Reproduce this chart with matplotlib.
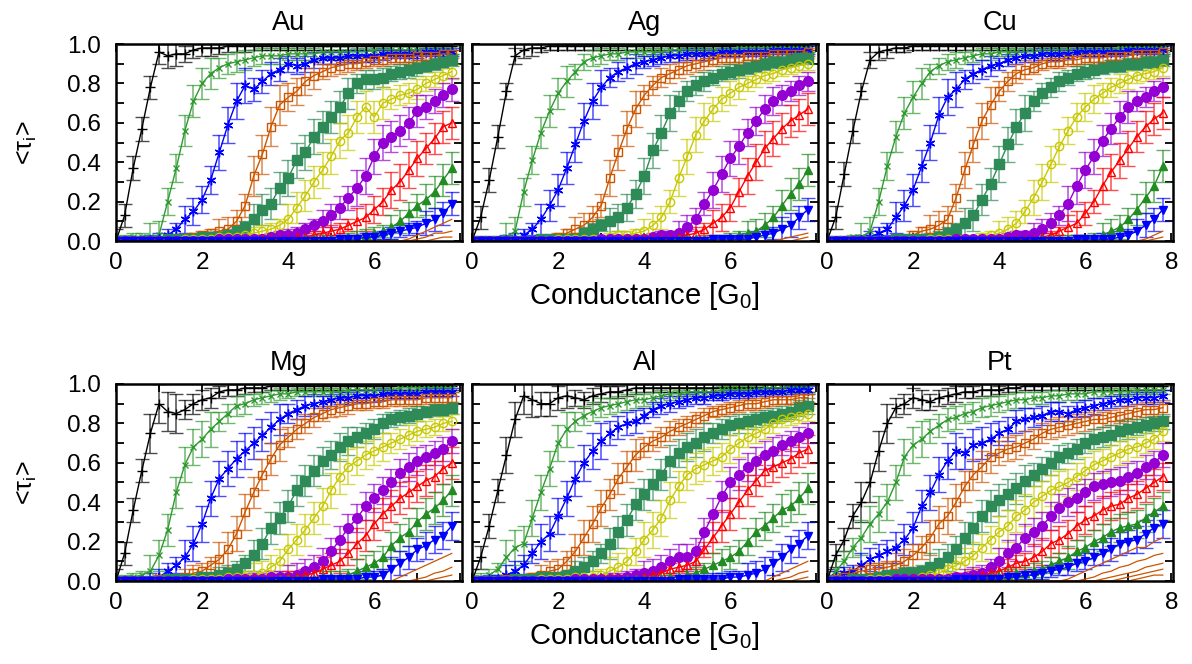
import numpy as np
import matplotlib
matplotlib.use("Agg")
import matplotlib.pyplot as plt
from matplotlib.ticker import MultipleLocator, FormatStrFormatter
from matplotlib.colors import to_rgba

plt.rcParams['font.family'] = ['Liberation Sans', 'DejaVu Sans']
plt.rcParams['mathtext.fontset'] = 'custom'
plt.rcParams['mathtext.rm'] = 'Liberation Sans'
plt.rcParams['mathtext.it'] = 'Liberation Sans:italic'
plt.rcParams['mathtext.default'] = 'regular'

# conductance grid [G0], one point every 0.2
G = [round(0.2 * i, 1) for i in range(40)]

# channel transmissions in percent, 10 channels per metal (40 points each)
au_ch = [
    [0, 13, 37, 57, 78, 96, 94, 95, 95, 97, 98, 98, 98] + [99] * 27,
    [0, 1, 2, 2, 2, 3, 20, 37, 56, 71, 80, 85, 88, 90, 91, 92, 93, 94, 94, 94] + [95] * 4 + [96] * 6 + [97] * 10,
    [0, 0, 0, 0, 0, 1, 3, 6, 11, 15, 21, 31, 45, 59, 71, 79, 77, 81, 85, 87, 90, 89, 90, 92, 93, 93, 93, 94, 94, 94, 94, 95, 95, 95, 95, 95, 96, 96, 96, 96],
    [0] * 9 + [2, 3, 4, 5, 6, 10, 18, 33, 44, 58, 69, 73, 76, 81, 84, 86, 88, 89, 90, 90, 91, 92, 92, 93, 93, 93, 94, 94, 94, 95, 95],
    [0, 0, 0, 0, 0, 0, 1, 1, 1, 1, 2, 2, 2, 3, 5, 7, 11, 16, 19, 27, 32, 41, 45, 53, 58, 63, 68, 75, 80, 82, 82, 83, 85, 86, 87, 88, 89, 90, 91, 92],
    [0, 0, 0, 0, 0, 0, 0, 0, 1, 1, 1, 1, 2, 2, 2, 3, 4, 5, 6, 8, 11, 17, 23, 30, 36, 43, 51, 55, 63, 68, 63, 70, 72, 74, 75, 77, 80, 82, 84, 86],
    [0] * 12 + [1] * 6 + [2, 3, 3, 4, 6, 8, 10, 13, 17, 22, 27, 33, 43, 50, 53, 56, 60, 66, 68, 71, 74, 77],
    [0] * 17 + [1, 1, 1, 1, 2, 2, 3, 4, 5, 6, 8, 10, 12, 16, 20, 26, 30, 36, 42, 47, 52, 58, 60],
    [0] * 22 + [1] * 5 + [2, 2, 3, 4, 5, 7, 10, 14, 18, 21, 25, 31, 37],
    [0] * 26 + [1] * 3 + [2, 2, 3, 4, 5, 6, 7, 9, 11, 14, 19],
]
ag_ch = [
    [0, 12, 31, 53, 76, 94, 97, 98, 98] + [99] * 31,
    [0, 0, 1, 1, 2, 5, 25, 41, 55, 66, 75, 81, 86, 91, 93, 94, 95, 95] + [96] * 5 + [97] * 8 + [98] * 9,
    [0, 0, 0, 0, 0, 1, 3, 6, 11, 18, 26, 37, 49, 61, 71, 78, 83, 86, 88, 90, 91, 92, 93, 94, 94, 95, 95, 95, 95, 96, 96, 96, 96, 96, 96, 97, 97, 97, 97, 97],
    [0] * 9 + [1, 2, 4, 6, 8, 12, 18, 32, 45, 57, 67, 74, 79, 83, 85, 87, 89, 90, 91, 92, 93, 93, 93, 94, 94, 94, 95, 95, 95, 95, 96],
    [0] * 8 + [1] * 5 + [4, 6, 8, 10, 12, 17, 24, 33, 46, 55, 65, 71, 76, 79, 81, 83, 85, 86, 87, 88, 89, 90, 91, 91, 92, 93, 93],
    [0] * 10 + [1] * 6 + [2, 3, 3, 4, 5, 8, 12, 20, 32, 43, 54, 61, 67, 72, 75, 78, 80, 82, 84, 85, 87, 88, 89, 90],
    [0] * 15 + [1] * 6 + [2, 3, 3, 4, 7, 11, 19, 26, 34, 42, 48, 55, 61, 67, 71, 74, 76, 79, 81],
    [0] * 18 + [1] * 6 + [2, 3, 4, 6, 9, 12, 17, 25, 33, 40, 47, 52, 57, 61, 64, 67],
    [0] * 24 + [1] * 6 + [2, 3, 4, 5, 8, 12, 18, 24, 29, 36],
    [0] * 28 + [1] * 5 + [2, 3, 4, 6, 8, 12, 16],
]
cu_ch = [
    [0, 12, 34, 56, 76, 92, 96, 97, 98, 98] + [99] * 30,
    [0, 1, 1, 2, 2, 5, 20, 38, 53, 65, 73, 80, 86, 89, 91, 92, 93, 94, 95, 95, 96, 96, 96, 96, 96] + [97] * 9 + [98] * 6,
    [0, 0, 0, 0, 0, 2, 4, 6, 12, 18, 26, 38, 50, 64, 73, 77, 82, 85, 87, 89, 90, 92, 93, 94, 94, 95, 95, 95, 95, 96, 96, 96, 96, 96, 96, 97, 97, 97, 97, 97],
    [0] * 9 + [1, 3, 5, 6, 8, 11, 22, 36, 49, 61, 69, 76, 81, 85, 87, 88, 90, 91, 91, 92, 92, 93, 93, 93, 94, 94, 94, 95, 95, 95, 96],
    [0] * 8 + [1] * 5 + [2, 4, 6, 9, 13, 21, 29, 39, 49, 58, 65, 71, 75, 78, 81, 83, 85, 86, 87, 88, 89, 89, 90, 90, 91, 91, 92],
    [0] * 12 + [1] * 6 + [2, 3, 4, 6, 9, 15, 22, 30, 39, 48, 56, 63, 68, 72, 75, 78, 80, 82, 84, 85, 86, 88],
    [0] * 15 + [1] * 6 + [2, 3, 3, 4, 6, 9, 13, 19, 28, 36, 43, 51, 57, 63, 68, 71, 73, 76, 78],
    [0] * 19 + [1] * 6 + [2, 3, 5, 7, 9, 14, 20, 28, 35, 41, 47, 53, 58, 62, 65],
    [0] * 25 + [1] * 6 + [2, 3, 5, 7, 11, 16, 22, 28, 38],
    [0] * 29 + [1] * 5 + [2, 3, 5, 8, 11, 16],
]
mg_ch = [
    [0, 14, 36, 56, 75, 90, 86, 85, 87, 90, 92, 93, 96, 97, 97, 98, 98, 98] + [99] * 22,
    [0, 1, 2, 3, 5, 13, 26, 45, 59, 68, 72, 77, 81, 85, 89, 90, 92, 93, 94, 95, 95] + [96] * 6 + [97] * 6 + [98] * 7,
    [0, 0, 0, 0, 0, 2, 5, 8, 12, 19, 29, 42, 52, 57, 62, 66, 70, 74, 78, 82, 85, 87, 89, 90, 91, 92, 93, 93, 94, 94, 94, 95, 95, 95, 95, 95, 96, 96, 96, 96],
    [0, 0, 0, 0, 0, 1, 1, 1, 2, 4, 5, 8, 11, 16, 24, 35, 45, 54, 62, 69, 73, 77, 80, 83, 85, 87, 88, 89, 90, 90, 91, 91, 92, 92, 92, 92, 93, 93, 93, 93],
    [0] * 6 + [1, 1, 1, 1, 2, 2, 3, 4, 6, 9, 13, 19, 27, 32, 38, 46, 51, 56, 61, 64, 68, 71, 73, 75, 77, 80, 82, 83, 84, 85, 86, 87, 87, 88],
    [0] * 9 + [1] * 4 + [2, 2, 2, 3, 4, 7, 10, 16, 21, 26, 32, 38, 46, 53, 58, 61, 64, 66, 68, 70, 72, 74, 76, 77, 78, 80, 81],
    [0] * 13 + [1] * 5 + [2, 2, 2, 3, 5, 7, 10, 15, 21, 27, 32, 38, 42, 46, 50, 55, 58, 61, 63, 65, 67, 71],
    [0] * 15 + [1] * 5 + [2, 2, 3, 4, 6, 8, 10, 14, 19, 23, 29, 34, 38, 42, 45, 48, 51, 53, 57, 60],
    [0] * 19 + [1] * 5 + [2, 2, 2, 3, 5, 7, 9, 12, 18, 22, 25, 30, 34, 37, 41, 46],
    [0] * 24 + [1] * 5 + [2, 2, 3, 6, 9, 12, 16, 18, 21, 23, 28],
]
al_ch = [
    [0, 12, 28, 46, 64, 82, 94, 92, 90, 90, 93, 94, 93, 92, 94, 95, 96, 96, 97] + [98] * 21,
    [0, 1, 3, 6, 12, 17, 19, 32, 45, 57, 70, 77, 81, 84, 86, 88, 89, 90, 91, 92, 92, 93, 94, 95, 95, 96, 96, 96, 96] + [97] * 5 + [98] * 6,
    [0, 0, 1, 1, 3, 5, 8, 14, 20, 24, 33, 42, 52, 60, 66, 71, 75, 78, 80, 81, 84, 87, 89, 90, 91, 92, 93, 93, 94, 94, 95, 95, 95, 96, 96, 96, 96, 97, 97, 97],
    [0, 0, 0, 0, 1, 1, 1, 2, 3, 5, 6, 10, 15, 22, 29, 37, 44, 52, 58, 64, 68, 71, 73, 76, 78, 80, 82, 84, 86, 87, 88, 89, 90, 90, 91, 92, 92, 92, 93, 93],
    [0] * 5 + [1] * 3 + [2, 2, 2, 3, 5, 7, 10, 14, 19, 25, 31, 39, 44, 49, 54, 61, 65, 68, 70, 73, 75, 77, 79, 80, 81, 82, 83, 84, 85, 86, 88, 89],
    [0] * 8 + [1] * 4 + [2, 2, 2, 3, 5, 7, 10, 15, 21, 26, 32, 41, 48, 54, 57, 59, 61, 63, 67, 70, 73, 75, 77, 80, 82, 83, 84, 85],
    [0] * 12 + [1] * 6 + [2, 3, 4, 5, 7, 10, 12, 12, 15, 25, 34, 43, 50, 54, 58, 61, 64, 66, 69, 71, 73, 75],
    [0] * 14 + [1] * 6 + [2, 3, 4, 6, 7, 8, 10, 16, 22, 28, 34, 40, 46, 51, 56, 58, 60, 62, 65, 67],
    [0] * 18 + [1] * 5 + [2, 2, 3, 4, 6, 8, 10, 12, 15, 20, 25, 28, 32, 36, 38, 42, 47],
    [0] * 24 + [1] * 6 + [2, 2, 3, 4, 6, 9, 12, 16, 19, 23],
]
pt_ch = [
    [0, 13, 21, 33, 40, 50, 66, 80, 88, 90, 93, 92, 91, 93, 94, 95, 96, 96, 97, 97, 97, 98, 98] + [99] * 17,
    [0, 5, 10, 17, 22, 29, 34, 40, 50, 63, 69, 72, 76, 79, 82, 83, 85, 86, 88, 89, 90, 91, 92, 92, 93, 93, 94, 94, 95, 95, 95, 96, 96, 96, 96, 96, 97, 97, 97, 97],
    [0, 2, 4, 5, 8, 11, 13, 15, 17, 21, 27, 38, 45, 54, 61, 66, 65, 69, 70, 72, 75, 77, 81, 82, 83, 84, 86, 86, 85, 87, 88, 89, 90, 91, 92, 92, 93, 93, 93, 94],
    [0, 1, 2, 4, 5, 6, 6, 7, 8, 10, 13, 17, 22, 29, 33, 40, 48, 54, 58, 63, 65, 67, 68, 70, 72, 75, 77, 78, 79, 80, 81, 82, 82, 83, 84, 85, 86, 87, 87, 88],
    [0, 0, 0, 1, 1, 1, 2, 3, 3, 4, 4, 5, 7, 9, 12, 16, 22, 27, 33, 38, 41, 44, 47, 51, 54, 57, 60, 63, 65, 67, 70, 72, 73, 74, 76, 77, 78, 79, 80, 81],
    [0, 0, 0, 0, 0, 1, 1, 1, 1, 1, 1, 2, 3, 4, 6, 8, 10, 13, 17, 21, 25, 28, 33, 36, 40, 43, 46, 48, 50, 53, 56, 59, 61, 63, 65, 67, 68, 70, 72, 76],
    [0] * 8 + [1] * 7 + [2, 2, 3, 4, 7, 10, 14, 17, 22, 25, 28, 33, 37, 40, 42, 45, 48, 49, 50, 51, 53, 55, 58, 60, 64],
    [0] * 10 + [1] * 7 + [2, 3, 4, 5, 7, 9, 10, 12, 15, 19, 21, 24, 28, 31, 33, 36, 38, 39, 42, 44, 47, 50, 53],
    [0] * 13 + [1] * 6 + [2, 2, 3, 4, 4, 5, 6, 8, 10, 12, 15, 17, 20, 22, 25, 27, 28, 29, 32, 35, 38],
    [0] * 15 + [1] * 6 + [2, 2, 3, 3, 4, 5, 6, 7, 9, 10, 12, 14, 16, 19, 20, 21, 24, 27, 29],
]

# error bar half widths in percent, one value per 0.8 G0 block (4 points)
au_err = [[6, 6, 4, 3, 2, 2, 2, 2, 2, 2], [2, 7, 8, 5, 4, 3, 3, 2, 2, 2], [1, 3, 7, 9, 6, 4, 3, 3, 2, 2],
          [1, 1, 2, 6, 10, 7, 4, 3, 3, 2], [1, 1, 2, 3, 8, 9, 8, 5, 4, 3], [1, 1, 1, 2, 3, 8, 9, 8, 5, 4],
          [1, 1, 1, 1, 2, 3, 6, 9, 8, 6], [1, 1, 1, 1, 1, 2, 3, 7, 9, 8], [1, 1, 1, 1, 1, 1, 2, 3, 6, 8],
          [1, 1, 1, 1, 1, 1, 1, 2, 3, 6]]
ag_err = [[6, 4, 2, 2, 2, 2, 2, 2, 2, 2], [1, 7, 8, 4, 3, 2, 2, 2, 2, 2], [1, 3, 8, 9, 5, 3, 3, 2, 2, 2],
          [1, 1, 2, 6, 9, 5, 4, 3, 2, 2], [1, 1, 1, 3, 7, 9, 5, 4, 3, 3], [1, 1, 1, 1, 2, 6, 9, 6, 4, 3],
          [1, 1, 1, 1, 1, 2, 6, 9, 7, 5], [1, 1, 1, 1, 1, 1, 3, 7, 9, 8], [1, 1, 1, 1, 1, 1, 1, 2, 6, 8],
          [1, 1, 1, 1, 1, 1, 1, 1, 3, 6]]
cu_err = [[6, 4, 2, 2, 2, 2, 2, 2, 2, 2], [1, 7, 8, 4, 3, 2, 2, 2, 2, 2], [1, 3, 8, 9, 5, 3, 3, 2, 2, 2],
          [1, 1, 2, 7, 9, 5, 3, 3, 2, 2], [1, 1, 1, 3, 8, 9, 5, 4, 3, 3], [1, 1, 1, 1, 2, 6, 9, 7, 5, 4],
          [1, 1, 1, 1, 1, 2, 5, 9, 8, 5], [1, 1, 1, 1, 1, 1, 2, 6, 9, 8], [1, 1, 1, 1, 1, 1, 1, 2, 6, 8],
          [1, 1, 1, 1, 1, 1, 1, 1, 3, 6]]
mg_err = [[6, 10, 5, 3, 2, 2, 2, 2, 2, 2], [2, 8, 9, 5, 3, 2, 2, 2, 2, 2], [1, 4, 9, 9, 8, 5, 3, 3, 2, 2],
          [1, 2, 4, 9, 8, 5, 4, 3, 3, 3], [1, 1, 2, 4, 8, 8, 7, 5, 4, 3], [1, 1, 1, 3, 6, 8, 9, 7, 5, 4],
          [1, 1, 1, 1, 3, 6, 7, 7, 7, 6], [1, 1, 1, 1, 2, 3, 6, 8, 8, 8], [1, 1, 1, 1, 1, 1, 3, 6, 7, 8],
          [1, 1, 1, 1, 1, 1, 1, 3, 6, 7]]
al_err = [[6, 9, 6, 4, 3, 2, 2, 2, 2, 2], [3, 9, 9, 5, 4, 3, 2, 2, 2, 2], [2, 5, 9, 9, 6, 4, 3, 2, 2, 2],
          [1, 2, 5, 9, 8, 5, 4, 3, 3, 2], [1, 1, 2, 5, 8, 8, 7, 5, 4, 4], [1, 1, 1, 3, 7, 9, 8, 7, 5, 4],
          [1, 1, 1, 1, 3, 6, 7, 8, 7, 5], [1, 1, 1, 1, 2, 3, 4, 8, 8, 7], [1, 1, 1, 1, 1, 2, 3, 6, 7, 8],
          [1, 1, 1, 1, 1, 1, 1, 3, 6, 7]]
pt_err = [[6, 10, 5, 4, 3, 2, 2, 2, 2, 2], [5, 9, 9, 6, 5, 4, 3, 3, 2, 2], [3, 6, 8, 9, 8, 6, 5, 4, 3, 3],
          [2, 3, 6, 9, 8, 6, 5, 5, 4, 4], [1, 2, 3, 7, 8, 8, 6, 5, 5, 4], [1, 1, 2, 4, 7, 8, 8, 7, 6, 5],
          [1, 1, 1, 2, 4, 7, 7, 7, 7, 6], [1, 1, 1, 1, 3, 4, 7, 7, 7, 7], [1, 1, 1, 1, 2, 3, 4, 6, 7, 7],
          [1, 1, 1, 1, 1, 2, 3, 4, 6, 7]]

# higher channels (plain orange lines, no error bars)
au_low = [[0] * 34 + [1, 3, 5, 7, 9, 11], [0] * 35 + [1, 2, 4, 4, 5], [0] * 37 + [1, 2, 2]]
ag_low = [[0] * 36 + [1, 2, 3, 4], [0] * 38 + [1, 2]]
cu_low = [[0] * 37 + [1, 3, 5], [0] * 38 + [1, 2]]
mg_low = [[0] * 33 + [2, 4, 6, 8, 10, 12, 14], [0] * 35 + [1, 2, 4, 5, 7], [0] * 37 + [1, 2, 3]]
al_low = [[0] * 35 + [2, 4, 6, 8, 10], [0] * 36 + [1, 2, 4, 5], [0] * 38 + [1, 2]]
pt_low = [[0] * 28 + [1, 3, 5, 7, 9, 11, 13, 15, 17, 17, 20, 22],
          [0] * 30 + [1, 2, 4, 5, 7, 8, 10, 11, 13, 14],
          [0] * 32 + [1, 2, 3, 4, 5, 7, 8, 9],
          [0] * 34 + [1, 2, 3, 4, 5, 6],
          [0] * 36 + [1, 2, 3, 3]]

metals = ['Au', 'Ag', 'Cu', 'Mg', 'Al', 'Pt']
channels = [au_ch, ag_ch, cu_ch, mg_ch, al_ch, pt_ch]
errors = [au_err, ag_err, cu_err, mg_err, al_err, pt_err]
lows = [au_low, ag_low, cu_low, mg_low, al_low, pt_low]

# color, marker, filled, marker size
styles = [
    ('black', '+', True, 7),
    ('#2f9a2f', 'x', True, 5),
    ('#0000ff', (6, 2, 0), True, 7),
    ('#cc5500', 's', False, 5.5),
    ('#2e8b57', 's', True, 7),
    ('#c8c800', 'o', False, 6),
    ('#9400d3', 'o', True, 7),
    ('#ff0000', '^', False, 6),
    ('#228b22', '^', True, 6),
    ('#0000ff', 'v', True, 5.5),
]

fig = plt.figure(figsize=(11.92, 6.64), dpi=100)
lefts = [0.0973, 0.396, 0.6938]
bottoms = [0.637, 0.125]
w, h = 0.29, 0.2967

for k, name in enumerate(metals):
    row, col = divmod(k, 3)
    ax = fig.add_axes([lefts[col], bottoms[row], w, h])

    for j, y in enumerate(channels[k]):
        c, m, filled, ms = styles[j]
        yy = np.array(y) / 100.0
        ee = np.repeat(errors[k][j], 4) / 100.0
        ax.errorbar(G, yy, yerr=ee, color=c, lw=1.0, marker=m, ms=ms,
                    mfc=c if filled else 'none', mec=c, mew=1.0,
                    ecolor=to_rgba(c, 0.7), elinewidth=1.1, capsize=4.8,
                    capthick=1.1)
    for y in lows[k]:
        ax.plot(G, np.array(y) / 100.0, color='#cc5500', lw=0.9)

    ax.set_xlim(0, 8.03)
    ax.set_ylim(0, 1.0)
    if col == 2:
        ax.set_xticks([0, 2, 4, 6, 8])
    else:
        ax.set_xticks([0, 2, 4, 6])
    ax.xaxis.set_minor_locator(MultipleLocator(1))
    ax.yaxis.set_major_locator(MultipleLocator(0.2))
    ax.yaxis.set_minor_locator(MultipleLocator(0.1))
    ax.yaxis.set_major_formatter(FormatStrFormatter('%.1f'))
    ax.tick_params(which='both', direction='in', top=True, right=True,
                   length=6, width=1.3, labelsize=17.5)
    ax.tick_params(axis='x', pad=8)
    ax.tick_params(axis='y', pad=11)
    for s in ax.spines.values():
        s.set_linewidth(1.8)

    ax.set_title(name, fontsize=19.5, pad=10)
    if col == 0:
        ax.set_ylabel(r'<τ$_i$>', fontsize=18, labelpad=20)
    else:
        ax.set_yticklabels([])
    if col == 1:
        ax.set_xlabel(r'Conductance [G$_0$]', fontsize=21, labelpad=4)

fig.savefig('out.png', dpi=100, facecolor='white')
